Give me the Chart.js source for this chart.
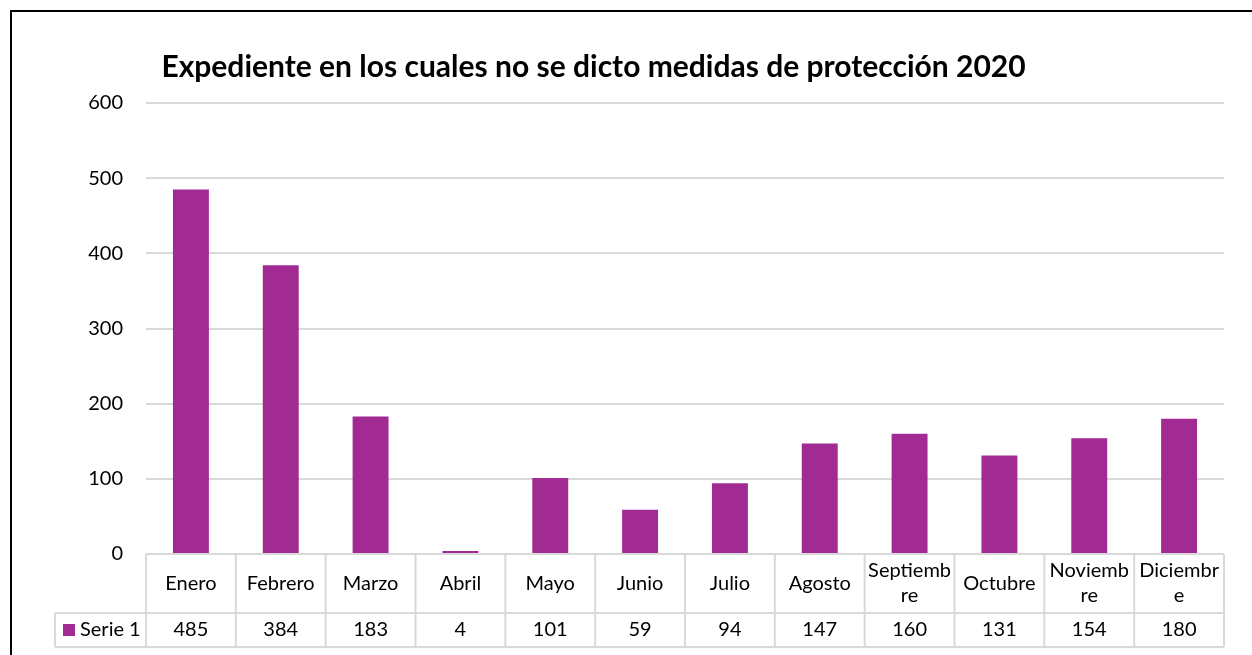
<!DOCTYPE html>
<html><head><meta charset="utf-8">
<script src="https://cdn.jsdelivr.net/npm/chart.js@4.4.0/dist/chart.umd.min.js"></script>
<style>html,body{margin:0;padding:0;background:#fff}#wrap{width:1252px;height:655px;position:relative;overflow:hidden}</style>
</head><body><div id="wrap"><canvas id="c" width="1252" height="655"></canvas></div>
<script>
const categories = ["Enero","Febrero","Marzo","Abril","Mayo","Junio","Julio","Agosto","Septiembre","Octubre","Noviembre","Diciembre"];
const categoryLines = [["Enero"],["Febrero"],["Marzo"],["Abril"],["Mayo"],["Junio"],["Julio"],["Agosto"],["Septiemb","re"],["Octubre"],["Noviemb","re"],["Diciembr","e"]];
const seriesName = "Serie 1";
const serie1 = [485,384,183,4,101,59,94,147,160,131,154,180];
const yTicks = [0,100,200,300,400,500,600];
const titleText = "Expediente en los cuales no se dicto medidas de protección 2020";

const FONT = "Lato, 'Open Sans', sans-serif";
const BAR = '#a12b93';
const GRID = '#d9d9d9';

const framePlugin = {
  id: 'frame',
  beforeDraw(chart) {
    const ctx = chart.ctx;
    ctx.save();
    ctx.fillStyle = '#fff';
    ctx.fillRect(0, 0, chart.width, chart.height);
    ctx.strokeStyle = '#000';
    ctx.lineWidth = 2;
    ctx.strokeRect(11, 11, chart.width + 20, chart.height + 20);
    ctx.restore();
  },
  afterDraw(chart) {
    const ctx = chart.ctx;
    ctx.save();
    ctx.fillStyle = '#000';
    ctx.font = "bold 30px " + FONT;
    ctx.textAlign = 'center';
    ctx.textBaseline = 'alphabetic';
    ctx.fillText(titleText, 593.5, 77);
    ctx.restore();
  }
};

const tablePlugin = {
  id: 'dataTable',
  afterDraw(chart) {
    const ctx = chart.ctx;
    const a = chart.chartArea;
    const x = chart.scales.x;
    const n = categories.length;
    const colW = (a.right - a.left) / n;
    const r1Top = a.bottom, r1Bot = a.bottom + 59, r2Bot = r1Bot + 34;
    const legLeft = 55;
    ctx.save();
    ctx.strokeStyle = GRID;
    ctx.lineWidth = 2;
    ctx.beginPath();
    ctx.moveTo(a.left, r1Top); ctx.lineTo(a.right, r1Top);
    ctx.moveTo(legLeft, r1Bot); ctx.lineTo(a.right, r1Bot);
    ctx.moveTo(legLeft, r2Bot); ctx.lineTo(a.right, r2Bot);
    ctx.moveTo(legLeft, r1Bot); ctx.lineTo(legLeft, r2Bot);
    for (let i = 0; i <= n; i++) {
      const xx = a.left + i * colW;
      ctx.moveTo(xx, r1Top); ctx.lineTo(xx, r2Bot);
    }
    ctx.stroke();

    ctx.fillStyle = '#000';
    ctx.font = "20px " + FONT;
    ctx.textAlign = 'center';
    ctx.textBaseline = 'middle';
    const midR1 = (r1Top + r1Bot) / 2;
    const midR2 = (r1Bot + r2Bot) / 2;
    for (let i = 0; i < n; i++) {
      const cx = x.getPixelForValue(i);
      const lines = categoryLines[i];
      const lh = 25;
      const start = midR1 - (lines.length - 1) * lh / 2;
      lines.forEach((t, k) => ctx.fillText(t, cx, start + k * lh));
      ctx.fillText(String(serie1[i]), cx, midR2);
    }
    ctx.fillStyle = BAR;
    ctx.fillRect(63, midR2 - 6, 12, 12);
    ctx.fillStyle = '#000';
    ctx.textAlign = 'left';
    ctx.fillText(seriesName, 80, midR2);
    ctx.restore();
  }
};

new Chart(document.getElementById('c'), {
  type: 'bar',
  data: {
    labels: categories,
    datasets: [{
      label: seriesName,
      data: serie1,
      backgroundColor: BAR,
      barPercentage: 0.4,
      categoryPercentage: 1.0
    }]
  },
  options: {
    responsive: false,
    animation: false,
    devicePixelRatio: 1,
    layout: { padding: { left: 0, right: 28, top: 103, bottom: 101 } },
    plugins: { legend: { display: false }, title: { display: false }, tooltip: { enabled: false } },
    scales: {
      x: { display: false },
      y: {
        min: 0, max: 600,
        afterBuildTicks(s) { s.ticks = yTicks.map(v => ({ value: v })); },
        afterFit(s) { s.width = 146; },
        ticks: { color: '#000', font: { family: FONT, size: 20 }, padding: 23 },
        grid: { color: GRID, lineWidth: 2, drawTicks: false },
        border: { display: false }
      }
    }
  },
  plugins: [framePlugin, tablePlugin]
});
</script>
</body></html>
